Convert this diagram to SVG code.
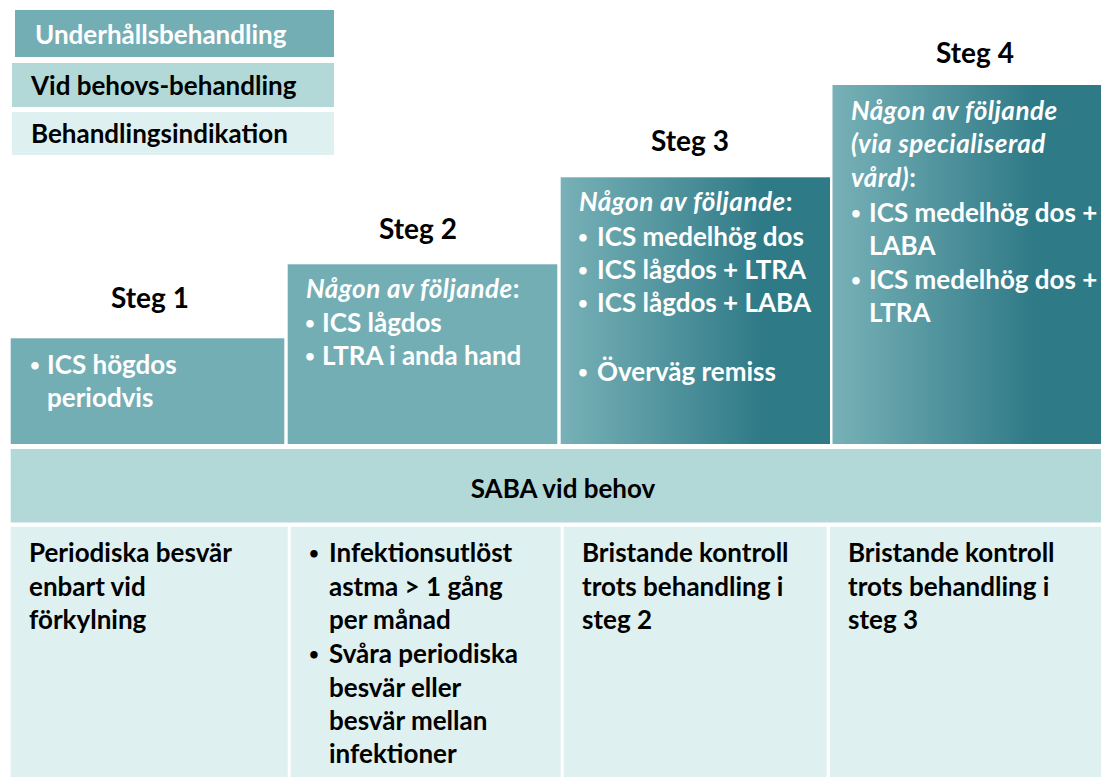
<svg xmlns="http://www.w3.org/2000/svg" width="1101" height="777" viewBox="0 0 1101 777">
<style>
text{font-family:Lato,"Liberation Sans",sans-serif;font-weight:bold;font-size:26px}
.w{fill:#ffffff}
.k{fill:#000000}
.it{font-style:italic;letter-spacing:0.5px}
.b{font-size:17px}
.st{font-size:28px;fill:#000000}
.mid{fill:#74aeb5}
.lt{fill:#b2d9d8}
.pale{fill:#dff0f0}
</style>
<defs>
<linearGradient id="grad" x1="0" y1="0" x2="1" y2="0">
<stop offset="0" stop-color="#78b1b7"/>
<stop offset="0.75" stop-color="#2f7a87"/>
<stop offset="1" stop-color="#2f7a87"/>
</linearGradient>
</defs>
<rect width="1101" height="777" fill="#ffffff"/>

<g id="legend">
<rect class="mid" x="15" y="10" width="319" height="47"/>
<text class="w" x="35" y="44">Underhållsbehandling</text>
<rect class="lt" x="12" y="63" width="322" height="44"/>
<text class="k" x="31" y="95">Vid behovs-behandling</text>
<rect class="pale" x="12" y="112" width="322" height="43"/>
<text class="k" x="31" y="143">Behandlingsindikation</text>
</g>

<g id="steg1">
<text class="st" x="150" y="308" text-anchor="middle">Steg 1</text>
<rect class="mid" x="10.7" y="338.3" width="273.6" height="105.7"/>
<text class="w b" x="30" y="371">•</text>
<text class="w" x="47" y="374">ICS högdos</text>
<text class="w" x="47" y="407">periodvis</text>
</g>

<g id="steg2">
<text class="st" x="418" y="239" text-anchor="middle">Steg 2</text>
<rect class="mid" x="287.7" y="264.3" width="269.6" height="179.7"/>
<text class="w" x="306" y="298"><tspan class="it">Någon av följande</tspan>:</text>
<text class="w b" x="305" y="329">•</text>
<text class="w" x="322" y="332">ICS lågdos</text>
<text class="w b" x="305" y="362">•</text>
<text class="w" x="322" y="365">LTRA i anda hand</text>
</g>

<g id="steg3">
<text class="st" x="690" y="151" text-anchor="middle">Steg 3</text>
<rect fill="url(#grad)" x="560.7" y="177.3" width="269.3" height="266.7"/>
<text class="w" x="579" y="211"><tspan class="it">Någon av följande</tspan>:</text>
<text class="w b" x="578" y="243">•</text>
<text class="w" x="597" y="246">ICS medelhög dos</text>
<text class="w b" x="578" y="276">•</text>
<text class="w" x="597" y="279">ICS lågdos + LTRA</text>
<text class="w b" x="578" y="309">•</text>
<text class="w" x="597" y="312">ICS lågdos + LABA</text>
<text class="w b" x="578" y="378">•</text>
<text class="w" x="597" y="381">Överväg remiss</text>
</g>

<g id="steg4">
<text class="st" x="975" y="63" text-anchor="middle">Steg 4</text>
<rect fill="url(#grad)" x="832.5" y="85" width="268.5" height="359"/>
<text class="w it" x="851" y="120">Någon av följande</text>
<text class="w it" x="851" y="153">(via specialiserad</text>
<text class="w" x="851" y="187"><tspan class="it">vård)</tspan>:</text>
<text class="w b" x="851" y="219">•</text>
<text class="w" x="869" y="222">ICS medelhög dos +</text>
<text class="w" x="869" y="255">LABA</text>
<text class="w b" x="851" y="286">•</text>
<text class="w" x="869" y="289">ICS medelhög dos +</text>
<text class="w" x="869" y="322">LTRA</text>
</g>

<g id="saba">
<rect class="lt" x="10.7" y="449" width="1090.3" height="73.5"/>
<text class="k" x="563" y="498" text-anchor="middle" font-size="24">SABA vid behov</text>
</g>

<g id="ind1">
<rect class="pale" x="10.7" y="526.7" width="277" height="250.3"/>
<text class="k" x="29" y="562">Periodiska besvär</text>
<text class="k" x="29" y="596">enbart vid</text>
<text class="k" x="29" y="629">förkylning</text>
</g>

<g id="ind2">
<rect class="pale" x="290.7" y="526.7" width="270" height="250.3"/>
<text class="k b" x="309" y="559">•</text>
<text class="k" x="329" y="562">Infektionsutlöst</text>
<text class="k" x="329" y="596">astma &gt; 1 gång</text>
<text class="k" x="329" y="629">per månad</text>
<text class="k b" x="309" y="660">•</text>
<text class="k" x="329" y="663">Svåra periodiska</text>
<text class="k" x="329" y="697">besvär eller</text>
<text class="k" x="329" y="730">besvär mellan</text>
<text class="k" x="329" y="763">infektioner</text>
</g>

<g id="ind3">
<rect class="pale" x="563.7" y="526.7" width="263" height="250.3"/>
<text class="k" x="582" y="562">Bristande kontroll</text>
<text class="k" x="582" y="596">trots behandling i</text>
<text class="k" x="582" y="629">steg 2</text>
</g>

<g id="ind4">
<rect class="pale" x="830" y="526.7" width="271" height="250.3"/>
<text class="k" x="848" y="562">Bristande kontroll</text>
<text class="k" x="848" y="596">trots behandling i</text>
<text class="k" x="848" y="629">steg 3</text>
</g>
</svg>
